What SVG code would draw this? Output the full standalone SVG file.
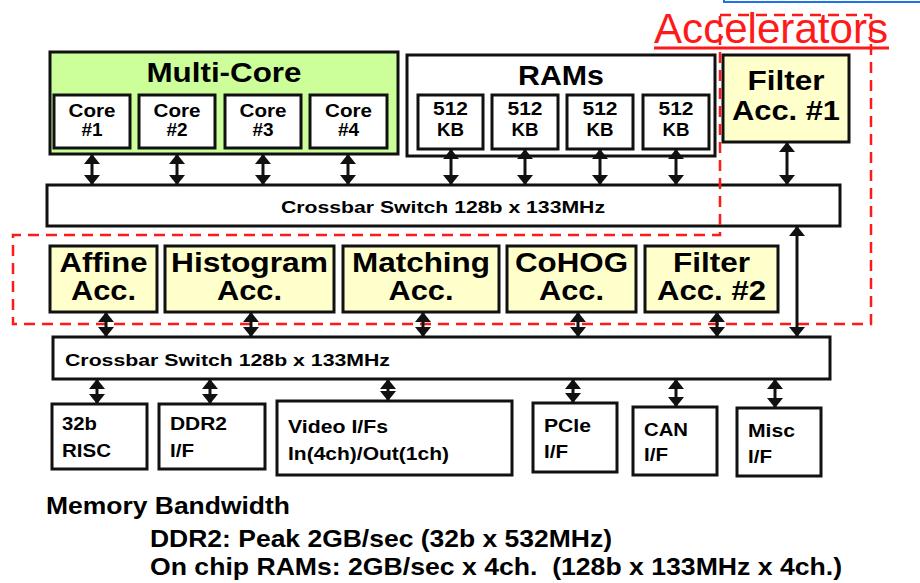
<svg xmlns="http://www.w3.org/2000/svg" width="920" height="583" viewBox="0 0 920 583">
<style>
.box{stroke:#111;stroke-width:3;fill:#fff}
.green{fill:#ccff99}
.yel{fill:#ffffcc}
text{font-family:"Liberation Sans",Arial,sans-serif;font-weight:bold;fill:#000}
.c{text-anchor:middle}
.s18{font-size:19px}
.s17{font-size:18px}
.x17{font-size:17px}
.s28{font-size:28px}
.s29{font-size:28px}
.s22{font-size:24px}
.conn line{stroke:#111;stroke-width:3;marker-start:url(#ah);marker-end:url(#ah)}
.red{fill:none;stroke:#ff1a1a;stroke-width:2.5;stroke-dasharray:11 7}
</style>
<defs>
<marker id="ah" markerUnits="userSpaceOnUse" markerWidth="10" markerHeight="16" viewBox="0 0 10 16" refX="9" refY="8" orient="auto-start-reverse">
<path d="M0,0 L10,8 L0,16 z" fill="#111"/>
</marker>
</defs>
<rect x="724" y="-10" width="210" height="12" fill="none" stroke="#1e73e8" stroke-width="2"/>

<g id="multicore">
<rect class="box green" x="50" y="52" width="348" height="102"/>
<text class="c s28" x="224" y="82" textLength="155" lengthAdjust="spacingAndGlyphs">Multi-Core</text>
</g>
<g id="core1"><rect class="box" x="54" y="95" width="76" height="53"/><text class="c s18" x="92" y="117" textLength="47" lengthAdjust="spacingAndGlyphs">Core</text><text class="c s18" x="92" y="136">#1</text></g>
<g id="core2"><rect class="box" x="139" y="95" width="76" height="53"/><text class="c s18" x="177" y="117" textLength="47" lengthAdjust="spacingAndGlyphs">Core</text><text class="c s18" x="177" y="136">#2</text></g>
<g id="core3"><rect class="box" x="225" y="95" width="76" height="53"/><text class="c s18" x="263" y="117" textLength="47" lengthAdjust="spacingAndGlyphs">Core</text><text class="c s18" x="263" y="136">#3</text></g>
<g id="core4"><rect class="box" x="310" y="95" width="77" height="53"/><text class="c s18" x="348.5" y="117" textLength="47" lengthAdjust="spacingAndGlyphs">Core</text><text class="c s18" x="348.5" y="136">#4</text></g>

<g id="rams">
<rect class="box" x="407" y="55" width="308" height="101"/>
<text class="c s28" x="561" y="85" textLength="86" lengthAdjust="spacingAndGlyphs">RAMs</text>
</g>
<g id="ram1"><rect class="box" x="418" y="95" width="65" height="54"/><text class="c s18" x="450.5" y="115" textLength="35" lengthAdjust="spacingAndGlyphs">512</text><text class="c s18" x="450.5" y="136" textLength="27" lengthAdjust="spacingAndGlyphs">KB</text></g>
<g id="ram2"><rect class="box" x="492" y="95" width="66" height="54"/><text class="c s18" x="525" y="115" textLength="35" lengthAdjust="spacingAndGlyphs">512</text><text class="c s18" x="525" y="136" textLength="27" lengthAdjust="spacingAndGlyphs">KB</text></g>
<g id="ram3"><rect class="box" x="567" y="95" width="66" height="54"/><text class="c s18" x="600" y="115" textLength="35" lengthAdjust="spacingAndGlyphs">512</text><text class="c s18" x="600" y="136" textLength="27" lengthAdjust="spacingAndGlyphs">KB</text></g>
<g id="ram4"><rect class="box" x="643" y="95" width="66" height="54"/><text class="c s18" x="676" y="115" textLength="35" lengthAdjust="spacingAndGlyphs">512</text><text class="c s18" x="676" y="136" textLength="27" lengthAdjust="spacingAndGlyphs">KB</text></g>

<g id="filter1"><rect class="box yel" x="723" y="55" width="126" height="87"/><text class="c s29" x="786" y="90" textLength="77" lengthAdjust="spacingAndGlyphs">Filter</text><text class="c s29" x="786" y="120" textLength="108" lengthAdjust="spacingAndGlyphs">Acc. #1</text></g>

<g id="xbar1"><rect class="box" x="47" y="185" width="793" height="41"/><text class="c x17" x="443" y="213" textLength="324" lengthAdjust="spacingAndGlyphs">Crossbar Switch 128b x 133MHz</text></g>

<g id="affine"><rect class="box yel" x="50" y="246" width="107" height="66"/><text class="c s29" x="103.5" y="272" textLength="88" lengthAdjust="spacingAndGlyphs">Affine</text><text class="c s29" x="103.5" y="300" textLength="65" lengthAdjust="spacingAndGlyphs">Acc.</text></g>
<g id="histogram"><rect class="box yel" x="165" y="246" width="169" height="66"/><text class="c s29" x="249.5" y="272" textLength="157" lengthAdjust="spacingAndGlyphs">Histogram</text><text class="c s29" x="249.5" y="300" textLength="65" lengthAdjust="spacingAndGlyphs">Acc.</text></g>
<g id="matching"><rect class="box yel" x="343" y="246" width="156" height="66"/><text class="c s29" x="421" y="272" textLength="138" lengthAdjust="spacingAndGlyphs">Matching</text><text class="c s29" x="421" y="300" textLength="65" lengthAdjust="spacingAndGlyphs">Acc.</text></g>
<g id="cohog"><rect class="box yel" x="507" y="246" width="129" height="66"/><text class="c s29" x="571.5" y="272" textLength="113" lengthAdjust="spacingAndGlyphs">CoHOG</text><text class="c s29" x="571.5" y="300" textLength="65" lengthAdjust="spacingAndGlyphs">Acc.</text></g>
<g id="filter2"><rect class="box yel" x="645" y="246" width="133" height="66"/><text class="c s29" x="711.5" y="272" textLength="77" lengthAdjust="spacingAndGlyphs">Filter</text><text class="c s29" x="711.5" y="300" textLength="109" lengthAdjust="spacingAndGlyphs">Acc. #2</text></g>

<g id="xbar2"><rect class="box" x="53" y="337" width="777" height="42"/><text class="x17" x="65" y="366" textLength="325" lengthAdjust="spacingAndGlyphs">Crossbar Switch 128b x 133MHz</text></g>

<g id="risc"><rect class="box" x="52" y="404" width="95" height="65"/><text class="s17" x="62" y="430" textLength="35" lengthAdjust="spacingAndGlyphs">32b</text><text class="s17" x="62" y="457" textLength="49" lengthAdjust="spacingAndGlyphs">RISC</text></g>
<g id="ddr2"><rect class="box" x="159" y="404" width="106" height="65"/><text class="s17" x="170" y="430" textLength="57" lengthAdjust="spacingAndGlyphs">DDR2</text><text class="s17" x="170" y="457" textLength="24" lengthAdjust="spacingAndGlyphs">I/F</text></g>
<g id="video"><rect class="box" x="277" y="401" width="235" height="74"/><text class="s17" x="288" y="433" textLength="100" lengthAdjust="spacingAndGlyphs">Video I/Fs</text><text class="s17" x="288" y="460" textLength="161" lengthAdjust="spacingAndGlyphs">In(4ch)/Out(1ch)</text></g>
<g id="pcie"><rect class="box" x="533" y="403" width="84" height="69"/><text class="s17" x="544" y="432" textLength="47" lengthAdjust="spacingAndGlyphs">PCIe</text><text class="s17" x="544" y="458" textLength="24" lengthAdjust="spacingAndGlyphs">I/F</text></g>
<g id="can"><rect class="box" x="633" y="407" width="84" height="68"/><text class="s17" x="644" y="436" textLength="44" lengthAdjust="spacingAndGlyphs">CAN</text><text class="s17" x="644" y="461" textLength="24" lengthAdjust="spacingAndGlyphs">I/F</text></g>
<g id="misc"><rect class="box" x="737" y="408" width="84" height="68"/><text class="s17" x="748" y="437" textLength="47" lengthAdjust="spacingAndGlyphs">Misc</text><text class="s17" x="748" y="463" textLength="24" lengthAdjust="spacingAndGlyphs">I/F</text></g>

<g id="accelerators">
<polygon class="red" points="720,15 871,15 871,324 13,324 13,235 720,235"/>
<text x="654" y="43" font-size="42" style="font-weight:normal;fill:#ff1a1a" textLength="234" lengthAdjust="spacingAndGlyphs">Accelerators</text>
<line x1="654" y1="48" x2="889" y2="48" stroke="#ff1a1a" stroke-width="3"/>
</g>

<g id="connectors" class="conn">
<line x1="92" y1="155" x2="92" y2="184"/>
<line x1="177" y1="155" x2="177" y2="184"/>
<line x1="263" y1="155" x2="263" y2="184"/>
<line x1="348" y1="155" x2="348" y2="184"/>
<line x1="451" y1="150" x2="451" y2="184"/>
<line x1="525" y1="150" x2="525" y2="184"/>
<line x1="600" y1="150" x2="600" y2="184"/>
<line x1="676" y1="150" x2="676" y2="184"/>
<line x1="787" y1="143" x2="787" y2="184"/>
<line x1="797" y1="227" x2="797" y2="336"/>
<line x1="106" y1="313" x2="106" y2="336"/>
<line x1="251" y1="313" x2="251" y2="336"/>
<line x1="423" y1="313" x2="423" y2="336"/>
<line x1="578" y1="313" x2="578" y2="336"/>
<line x1="717" y1="313" x2="717" y2="336"/>
<line x1="97" y1="380" x2="97" y2="403"/>
<line x1="210" y1="380" x2="210" y2="403"/>
<line x1="388" y1="380" x2="388" y2="400"/>
<line x1="573" y1="380" x2="573" y2="402"/>
<line x1="676" y1="380" x2="676" y2="406"/>
<line x1="775" y1="380" x2="775" y2="407"/>
</g>

<g id="notes">
<text class="s22" x="46" y="514" textLength="244" lengthAdjust="spacingAndGlyphs">Memory Bandwidth</text>
<text class="s22" x="150" y="547" textLength="462" lengthAdjust="spacingAndGlyphs">DDR2: Peak 2GB/sec (32b x 532MHz)</text>
<text class="s22" x="150" y="575" xml:space="preserve" textLength="692" lengthAdjust="spacingAndGlyphs">On chip RAMs: 2GB/sec x 4ch.  (128b x 133MHz x 4ch.)</text>
</g>
</svg>
